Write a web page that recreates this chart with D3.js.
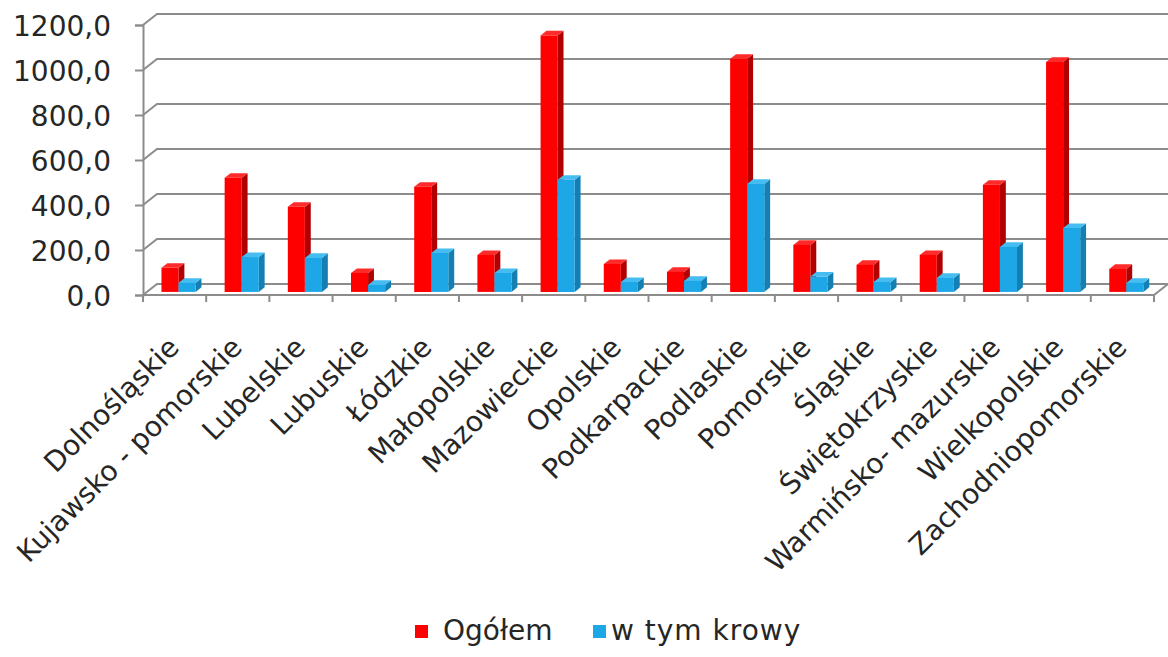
<!DOCTYPE html>
<html>
<head>
<meta charset="utf-8">
<script src="https://cdnjs.cloudflare.com/ajax/libs/d3/7.8.5/d3.min.js"></script>
<style>
  body { margin: 0; background: #fff; }
  text { font-family: "DejaVu Sans", Verdana, sans-serif; fill: #262626; }
</style>
</head>
<body>
<svg class="chart" width="1168" height="657"></svg>
<script>
//Data
var regions = ["Dolnośląskie", "Kujawsko - pomorskie", "Lubelskie", "Lubuskie", "Łódzkie",
  "Małopolskie", "Mazowieckie", "Opolskie", "Podkarpackie", "Podlaskie", "Pomorskie",
  "Śląskie", "Świętokrzyskie", "Warmińsko- mazurskie", "Wielkopolskie", "Zachodniopomorskie"];
var ogolem = [107, 507, 378, 84, 467, 164, 1140, 124, 89, 1036, 209, 120, 164, 476, 1022, 102];
var krowy = [40, 155, 151, 31, 173, 84, 498, 44, 49, 480, 68, 44, 62, 200, 284, 40];
var seriesNames = ["Ogółem", "w tym krowy"];
var yTicks = [0, 200, 400, 600, 800, 1000, 1200];

//Layout of the fake 3D box
var x0 = 143, plotW = 1011;
var depthX = 14, depthY = -11;      //offset of the back wall
var zFront = 0.28, zBack = 0.7;     //bars sit in the middle of the depth
var gridCol = "#8c8c8c";

var svg = d3.select(".chart");

var x = d3.scaleBand()
    .domain(regions)
    .range([x0, x0 + plotW])
    .paddingInner(0.46)
    .paddingOuter(0.23);

var xs = d3.scaleBand()
    .domain(seriesNames)
    .range([0, x.bandwidth()]);

var y = d3.scaleLinear()
    .domain([0, 1200])
    .range([295, 25]);

var fmt = function(v) { return d3.format(".1f")(v).replace(".", ","); };

//project a point (px on front plane, value, depth 0..1)
function pt(px, v, z) {
  return [px + z * depthX, y(v) + z * depthY];
}

//Back wall gridlines + diagonals on the side wall
var grid = svg.append("g");
yTicks.forEach(function(t) {
  var a = pt(x0, t, 0), b = pt(x0, t, 1), c = pt(x0 + plotW, t, 1);
  grid.append("path")
    .attr("d", "M" + a + "L" + b + "L" + c)
    .attr("fill", "none")
    .attr("stroke", gridCol)
    .attr("stroke-width", 2);
});

//Floor front edge and right edge
var f1 = pt(x0, 0, 0), f2 = pt(x0 + plotW, 0, 0), f3 = pt(x0 + plotW, 0, 1);
grid.append("path")
  .attr("d", "M" + f1 + "L" + f2 + "L" + f3)
  .attr("fill", "none")
  .attr("stroke", gridCol)
  .attr("stroke-width", 2);

//Y axis on the front plane
var yAxis = d3.axisLeft(y)
    .tickValues(yTicks)
    .tickSize(8)
    .tickPadding(24)
    .tickFormat(fmt);

var gy = svg.append("g")
    .attr("transform", "translate(" + x0 + ",0)")
    .call(yAxis);
gy.select(".domain").attr("stroke", gridCol).attr("stroke-width", 2);
gy.selectAll(".tick line").attr("stroke", gridCol).attr("stroke-width", 2);
gy.selectAll(".tick text")
    .style("font-size", "28px")
    .attr("dy", "0.36em");

//Category ticks under the floor
var bounds = regions.map(function(d) { return x(d) - x.step() * x.paddingInner() / 2; });
bounds.push(x0 + plotW);
svg.append("g").selectAll("line")
  .data(bounds)
  .enter().append("line")
    .attr("x1", function(d) { return d; })
    .attr("x2", function(d) { return d; })
    .attr("y1", y(0))
    .attr("y2", y(0) + 7)
    .attr("stroke", gridCol)
    .attr("stroke-width", 2);

//Bars, drawn as front / top / side faces
var colors = {
  "Ogółem": { front: "#ff0000", top: "#ff2a2a", side: "#b00000" },
  "w tym krowy": { front: "#1ea7e6", top: "#45bdf0", side: "#137fb3" }
};

var bars = svg.append("g");
regions.forEach(function(r, i) {
  [ogolem[i], krowy[i]].forEach(function(v, s) {
    var name = seriesNames[s];
    var c = colors[name];
    var l = x(r) + xs(name), rr = l + xs.bandwidth();
    var fl0 = pt(l, 0, zFront), fr0 = pt(rr, 0, zFront), fl1 = pt(l, v, zFront), fr1 = pt(rr, v, zFront);
    var bl1 = pt(l, v, zBack), br1 = pt(rr, v, zBack), br0 = pt(rr, 0, zBack);
    bars.append("path")
      .attr("d", "M" + fr0 + "L" + br0 + "L" + br1 + "L" + fr1 + "Z")
      .attr("fill", c.side);
    bars.append("path")
      .attr("d", "M" + fl1 + "L" + fr1 + "L" + br1 + "L" + bl1 + "Z")
      .attr("fill", c.top);
    bars.append("path")
      .attr("d", "M" + fl0 + "L" + fr0 + "L" + fr1 + "L" + fl1 + "Z")
      .attr("fill", c.front);
  });
});

//Rotated category labels
svg.append("g").selectAll("text")
  .data(regions)
  .enter().append("text")
    .attr("transform", function(d) {
      return "translate(" + (x(d) + x.bandwidth() / 2 + 6) + ",349) rotate(-45)";
    })
    .style("text-anchor", "end")
    .style("font-size", "28px")
    .text(function(d) { return d; });

//Legend
var legend = svg.append("g");
var legX = [415, 593];
seriesNames.forEach(function(n, i) {
  legend.append("rect")
    .attr("x", legX[i])
    .attr("y", 625)
    .attr("width", 13)
    .attr("height", 13)
    .attr("fill", colors[n].front);
  legend.append("text")
    .attr("x", legX[i] + (i == 0 ? 28 : 18))
    .attr("y", 640)
    .style("font-size", "28px")
    .style("letter-spacing", i == 1 ? "1px" : null)
    .text(n);
});
</script>
</body>
</html>
